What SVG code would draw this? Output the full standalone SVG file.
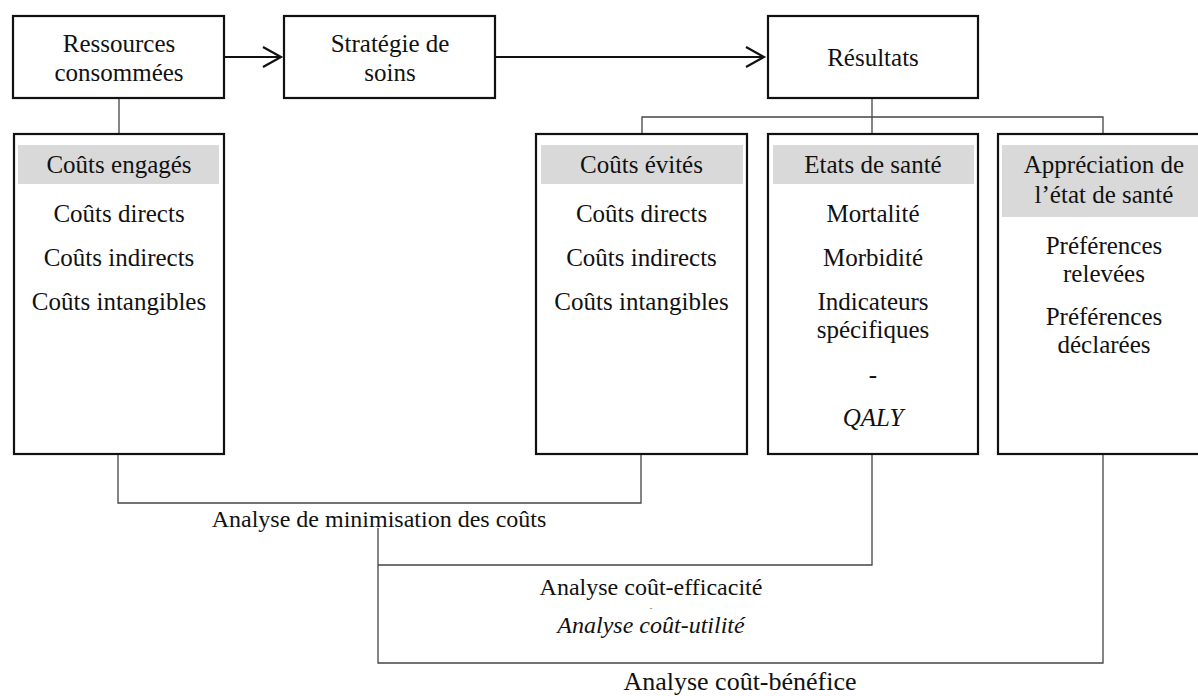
<svg xmlns="http://www.w3.org/2000/svg" width="1198" height="696" viewBox="0 0 1198 696">
<style>
  .box { fill: #ffffff; stroke: #111111; stroke-width: 2.2; }
  .hdr { fill: #d9d9d9; stroke: none; }
  text { font-family: 'Liberation Serif', 'DejaVu Serif', serif; fill: #111111; text-anchor: middle; }
  .t { font-size: 25px; }
  .lbl { font-size: 24px; }
  .it { font-style: italic; }
  .conn { fill: none; stroke: #444444; stroke-width: 1.3; }
  .arrow { fill: none; stroke: #111111; stroke-width: 2.2; }
</style>
<rect width="1198" height="696" fill="#ffffff"/>

<g id="connectors">
  <line class="arrow" x1="225" y1="57" x2="281" y2="57"/>
  <polyline class="arrow" points="263,47 281,57 263,67"/>
  <line class="arrow" x1="496" y1="57" x2="764" y2="57"/>
  <polyline class="arrow" points="746,47 764,57 746,67"/>
  <line class="conn" x1="119" y1="99" x2="119" y2="133"/>
  <line class="conn" x1="872" y1="99" x2="872" y2="133"/>
  <polyline class="conn" points="642,133 642,117 1103,117 1103,133"/>
  <polyline class="conn" points="118,455 118,503 641,503 641,455"/>
  <polyline class="conn" points="378,528 378,663 1103,663 1103,455"/>
  <polyline class="conn" points="378,565 872,565 872,455"/>
</g>

<g id="ressources">
  <rect class="box" x="13" y="16" width="211" height="82"/>
  <text class="t" x="119" y="52">Ressources</text>
  <text class="t" x="119" y="81">consommées</text>
</g>

<g id="strategie">
  <rect class="box" x="284" y="16" width="211" height="82"/>
  <text class="t" x="390" y="52">Stratégie de</text>
  <text class="t" x="390" y="81">soins</text>
</g>

<g id="resultats">
  <rect class="box" x="768" y="16" width="210" height="82"/>
  <text class="t" x="873" y="66">Résultats</text>
</g>

<g id="couts-engages">
  <rect class="box" x="14" y="134" width="210" height="320"/>
  <rect class="hdr" x="18" y="145" width="201" height="39"/>
  <text class="t" x="119" y="173">Coûts engagés</text>
  <text class="t" x="119" y="222">Coûts directs</text>
  <text class="t" x="119" y="266">Coûts indirects</text>
  <text class="t" x="119" y="310">Coûts intangibles</text>
</g>

<g id="couts-evites">
  <rect class="box" x="536" y="134" width="211" height="320"/>
  <rect class="hdr" x="541" y="145" width="202" height="39"/>
  <text class="t" x="641.5" y="173">Coûts évités</text>
  <text class="t" x="641.5" y="222">Coûts directs</text>
  <text class="t" x="641.5" y="266">Coûts indirects</text>
  <text class="t" x="641.5" y="310">Coûts intangibles</text>
</g>

<g id="etats-sante">
  <rect class="box" x="768" y="134" width="210" height="320"/>
  <rect class="hdr" x="773" y="145" width="201" height="39"/>
  <text class="t" x="873" y="173">Etats de santé</text>
  <text class="t" x="873" y="222">Mortalité</text>
  <text class="t" x="873" y="266">Morbidité</text>
  <text class="t" x="873" y="310">Indicateurs</text>
  <text class="t" x="873" y="338">spécifiques</text>
  <text class="t" x="873" y="383">-</text>
  <text class="t it" x="873" y="426">QALY</text>
</g>

<g id="appreciation">
  <rect class="box" x="998" y="134" width="210" height="320"/>
  <rect class="hdr" x="1002" y="145" width="202" height="72"/>
  <text class="t" x="1104" y="173">Appréciation de</text>
  <text class="t" x="1104" y="203">l’état de santé</text>
  <text class="t" x="1104" y="254">Préférences</text>
  <text class="t" x="1104" y="282">relevées</text>
  <text class="t" x="1104" y="325">Préférences</text>
  <text class="t" x="1104" y="353">déclarées</text>
</g>

<g id="labels">
  <text class="lbl" x="379" y="527">Analyse de minimisation des coûts</text>
  <text class="lbl" x="651" y="595">Analyse coût-efficacité</text>
  <text x="651" y="611" style="font-size:9px;fill:#777777">-</text>
  <text class="lbl it" x="651" y="633">Analyse coût-utilité</text>
  <text class="lbl" x="740" y="690" style="font-size:26px">Analyse coût-bénéfice</text>
</g>
</svg>
